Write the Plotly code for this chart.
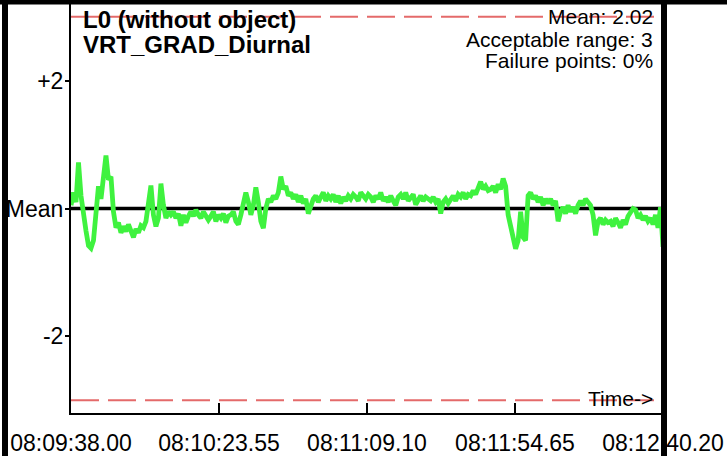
import numpy as np
import plotly.graph_objects as go

# ---------------- data ----------------
MEAN = 2.02
ACCEPTABLE_RANGE = 3
FAILURE_PCT = 0
TITLE_1 = "L0 (without object)"
TITLE_2 = "VRT_GRAD_Diurnal"

time_tick_seconds = [0.0, 45.55, 91.10, 136.65, 182.20]
time_tick_labels = ["08:09:38.00", "08:10:23.55", "08:11:09.10", "08:11:54.65", "08:12:40.20"]

y_tick_offsets = [-2, 0, 2]
y_tick_labels = ["-2", "Mean", "+2"]

deviation = [
    0.05, 0.25, 0.1, 0.72, 0.2, -0.15, -0.35, -0.58,
    -0.62, -0.5, -0.05, 0.35, 0.15, 0.55, 0.83, 0.45,
    0.5, -0.05, -0.3, -0.22, -0.38, -0.28, -0.36, -0.25,
    -0.35, -0.45, -0.32, -0.38, -0.27, -0.3, -0.2, 0.1,
    0.36, -0.1, -0.28, -0.15, 0.39, 0.05, -0.15, -0.05,
    -0.1, -0.05, -0.15, -0.08, -0.27, -0.1, -0.22, -0.12,
    -0.05, -0.12, -0.02, -0.1, -0.15, -0.05, -0.12, -0.18,
    -0.12, -0.05, -0.2, -0.1, -0.15, -0.08, -0.22, -0.12,
    -0.1, -0.05, -0.2, -0.25, -0.1, 0.05, 0.25, 0.1,
    -0.1, 0.05, 0.33, 0.1, -0.2, -0.31, 0.0, 0.15,
    0.1, 0.2, 0.15, 0.25, 0.5, 0.3, 0.35, 0.2,
    0.25, 0.15, 0.22, 0.1, 0.2, 0.08, 0.15, -0.08,
    0.05, 0.15, 0.2, 0.1, 0.18, 0.25, 0.12, 0.2,
    0.15, 0.22, 0.1, 0.2, 0.08, 0.18, 0.12, 0.2,
    0.15, 0.22, 0.18, 0.12, 0.25, 0.2, 0.15, 0.22,
    0.18, 0.1, 0.2, 0.15, 0.25, 0.12, 0.18, 0.1,
    0.2, 0.12, 0.05, 0.18, 0.22, 0.15, 0.25, 0.12,
    0.18, 0.22, 0.06, 0.15, 0.2, 0.12, 0.18, 0.15,
    0.12, 0.18, 0.1, 0.15, -0.08, 0.1, 0.15, 0.08,
    0.15, 0.2, 0.12, 0.22, 0.18, 0.25, 0.15, 0.22,
    0.2, 0.28, 0.22, 0.35, 0.42, 0.3, 0.35, 0.28,
    0.3, 0.35, 0.25, 0.38, 0.3, 0.47, 0.35, -0.1,
    -0.3, -0.45, -0.63, -0.5, -0.05, -0.45, -0.5, 0.2,
    0.25, 0.15, 0.2, 0.1, 0.18, 0.05, 0.15, 0.08,
    0.15, 0.05, 0.12, -0.2, -0.05, 0.02, -0.08, 0.05,
    -0.05, 0.02, -0.08, 0.05, 0.12, 0.05, 0.15, 0.1,
    0.05, -0.1, -0.42, -0.2, -0.15, -0.25, -0.18, -0.22,
    -0.2, -0.28, -0.15, -0.22, -0.3, -0.18, -0.25, -0.12,
    -0.05, 0.0, -0.02, -0.15, -0.1, -0.18, -0.12, -0.2,
    -0.15, -0.25, -0.1, -0.3, 0.02, -0.6,
]

# ---------------- layout constants ----------------
W, H = 727, 456
ML, MR, MT, MB = 71, 64, 4, 43
PW, PH = W - ML - MR, H - MT - MB
FONT = "Liberation Sans, Arial, Helvetica, sans-serif"


def px2x(px):
    return (px - ML) / PW


def py2y(py):
    return (H - MB - py) / PH


def border_rect(x0, y0, x1, y1):
    return dict(type="rect", xref="paper", yref="paper",
                x0=px2x(x0), x1=px2x(x1), y0=py2y(y1), y1=py2y(y0),
                fillcolor="black", line=dict(width=0), layer="above")


t = np.linspace(time_tick_seconds[0], time_tick_seconds[-1], len(deviation))
values = MEAN + np.array(deviation)

fig = go.Figure()
fig.add_trace(go.Scatter(
    x=t, y=values, mode="lines",
    line=dict(color="#3ff23f", width=4.8),
    hoverinfo="skip", showlegend=False,
))

limit_line = dict(color="rgba(225,90,90,0.9)", width=2, dash="28px,9px")
shapes = [
    # mean line
    dict(type="line", xref="paper", yref="y", x0=0, x1=1, y0=MEAN, y1=MEAN,
         line=dict(color="black", width=3.5), layer="below"),
    # acceptable range limits
    dict(type="line", xref="paper", yref="y", x0=0, x1=1,
         y0=MEAN + ACCEPTABLE_RANGE, y1=MEAN + ACCEPTABLE_RANGE,
         line=limit_line, layer="below"),
    dict(type="line", xref="paper", yref="y", x0=0, x1=1,
         y0=MEAN - ACCEPTABLE_RANGE, y1=MEAN - ACCEPTABLE_RANGE,
         line=limit_line, layer="below"),
    # frame borders
    border_rect(2, 0, 8, H),
    border_rect(661, 0, 667, H),
    border_rect(0, 0, W, 4.5),
]

annotations = [
    dict(text=f"<b>{TITLE_1}</b>", x=px2x(81), y=py2y(19), xanchor="left", yanchor="middle",
         font=dict(size=24, color="black", family=FONT)),
    dict(text=f"<b>{TITLE_2}</b>", x=px2x(81), y=py2y(45), xanchor="left", yanchor="middle",
         font=dict(size=24, color="black", family=FONT)),
    dict(text=f"Mean: {MEAN:.2f}", x=px2x(655), y=py2y(16), xanchor="right", yanchor="middle",
         font=dict(size=21, color="black", family=FONT)),
    dict(text=f"Acceptable range: {ACCEPTABLE_RANGE}", x=px2x(655), y=py2y(39.5), xanchor="right",
         yanchor="middle", font=dict(size=21, color="black", family=FONT)),
    dict(text=f"Failure points: {FAILURE_PCT}%", x=px2x(655), y=py2y(60.5), xanchor="right",
         yanchor="middle", font=dict(size=21, color="black", family=FONT)),
    dict(text="Time->", x=px2x(655), y=py2y(398), xanchor="right", yanchor="middle",
         font=dict(size=21, color="black", family=FONT)),
]
for a in annotations:
    a.update(xref="paper", yref="paper", showarrow=False)

fig.update_layout(
    width=W, height=H, autosize=False,
    margin=dict(l=ML, r=MR, t=MT, b=MB, pad=0),
    paper_bgcolor="white", plot_bgcolor="white",
    font=dict(family=FONT, color="black"),
    shapes=shapes, annotations=annotations,
    xaxis=dict(
        range=[time_tick_seconds[0], time_tick_seconds[-1]],
        tickvals=time_tick_seconds, ticktext=time_tick_labels,
        ticks="inside", ticklen=10, tickwidth=2, tickcolor="black",
        showline=True, linecolor="black", linewidth=2,
        showgrid=False, zeroline=False, ticklabelstandoff=8, automargin=False,
        tickfont=dict(size=23, color="black", family=FONT),
    ),
    yaxis=dict(
        range=[MEAN - 3.2, MEAN + 3.2],
        tickvals=[MEAN + o for o in y_tick_offsets], ticktext=y_tick_labels,
        ticks="outside", ticklen=4, tickwidth=2, tickcolor="black",
        showline=True, linecolor="black", linewidth=2,
        showgrid=False, zeroline=False, ticklabelstandoff=-3, automargin=False,
        tickfont=dict(size=23, color="black", family=FONT),
    ),
)

fig.write_html(
    "out.html",
    config={"displayModeBar": False, "responsive": False},
    post_script="document.body.style.margin='0px';document.body.style.overflow='hidden';",
)
